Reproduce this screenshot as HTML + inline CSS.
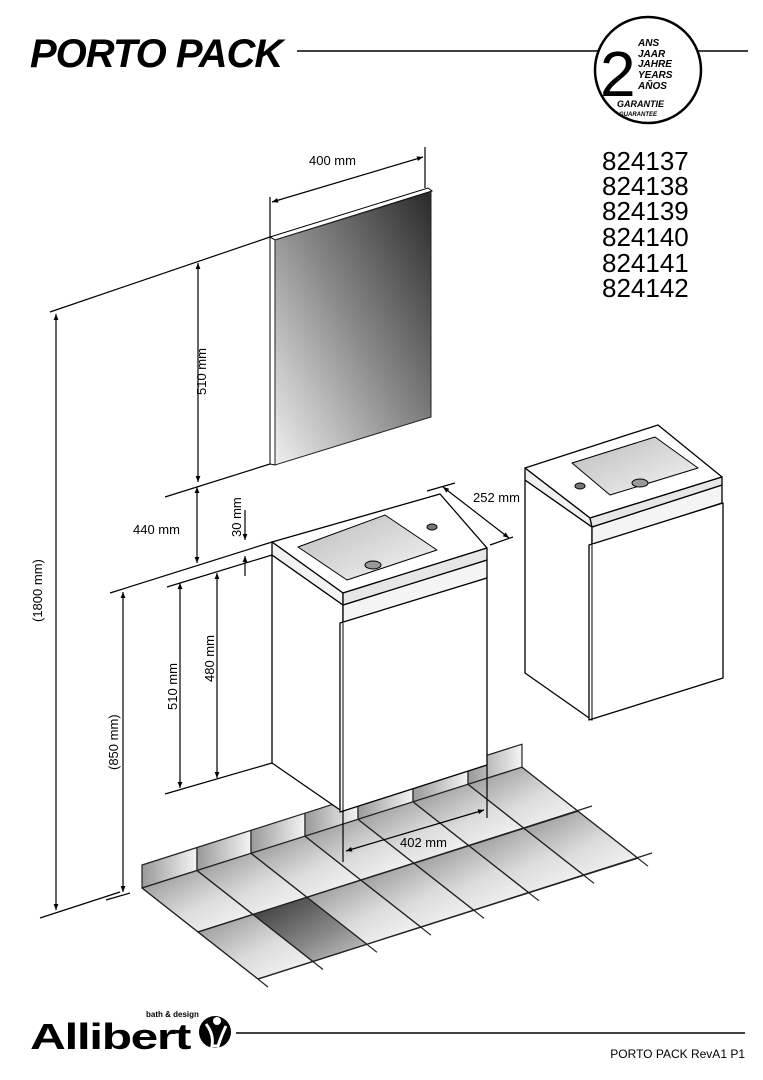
<!DOCTYPE html>
<html><head><meta charset="utf-8"><style>
html,body{margin:0;padding:0;background:#fff;}
svg{display:block;}
text{font-family:"Liberation Sans",sans-serif;}
</style></head><body>
<svg width="763" height="1080" viewBox="0 0 763 1080" xmlns="http://www.w3.org/2000/svg">
<defs>
<linearGradient id="mir" x1="1" y1="0" x2="0" y2="1">
<stop offset="0" stop-color="#2a2a2a"/><stop offset="0.5" stop-color="#8a8a8a"/><stop offset="1" stop-color="#f0f0f0"/>
</linearGradient>
<linearGradient id="tile" x1="0" y1="0" x2="1" y2="1">
<stop offset="0" stop-color="#8e8e8e"/><stop offset="0.55" stop-color="#dcdcdc"/><stop offset="1" stop-color="#fafafa"/>
</linearGradient>
<linearGradient id="tiled" x1="0" y1="0" x2="1" y2="1">
<stop offset="0" stop-color="#333"/><stop offset="0.6" stop-color="#888"/><stop offset="1" stop-color="#ccc"/>
</linearGradient>
<linearGradient id="sk" x1="0" y1="0" x2="1" y2="0">
<stop offset="0" stop-color="#999"/><stop offset="1" stop-color="#f4f4f4"/>
</linearGradient>
<linearGradient id="bas" x1="0" y1="0" x2="1" y2="1">
<stop offset="0" stop-color="#bbb"/><stop offset="1" stop-color="#f6f6f6"/>
</linearGradient>
<marker id="ar" viewBox="0 0 10 10" refX="10" refY="5" markerWidth="9" markerHeight="6" orient="auto-start-reverse" markerUnits="userSpaceOnUse">
<path d="M0,1 L10,5 L0,9 z" fill="#000"/></marker>
</defs>

<!-- Header -->
<text x="30" y="67" font-size="40" font-weight="bold" font-style="italic" letter-spacing="-1">PORTO PACK</text>
<line x1="297" y1="51" x2="598" y2="51" stroke="#000" stroke-width="1.5"/>
<line x1="698" y1="51" x2="748" y2="51" stroke="#000" stroke-width="1.5"/>
<ellipse cx="648" cy="70" rx="53" ry="53" fill="#fff" stroke="#000" stroke-width="2.5"/>
<text x="600" y="96" font-size="64">2</text>
<g font-size="10" font-weight="bold" font-style="italic">
<text x="638" y="46">ANS</text><text x="638" y="57">JAAR</text><text x="638" y="67">JAHRE</text><text x="638" y="78">YEARS</text><text x="638" y="89">AÑOS</text>
<text x="617" y="107" font-size="9">GARANTIE</text><text x="619" y="116" font-size="6">GUARANTEE</text></g>

<g font-size="26">
<text x="602" y="170">824137</text><text x="602" y="195">824138</text><text x="602" y="220">824139</text>
<text x="602" y="246">824140</text><text x="602" y="272">824141</text><text x="602" y="297">824142</text></g>

<!-- Floor -->
<g stroke="#222" stroke-width="1.2" stroke-linejoin="round">
<polygon points="142,865 197,847.5 197,870.5 142,888" fill="url(#sk)"/>
<polygon points="197,847.5 251,830.3 251,853.3 197,870.5" fill="url(#sk)"/>
<polygon points="251,830.3 305,813.2 305,836.2 251,853.3" fill="url(#sk)"/>
<polygon points="305,813.2 358,796.3 358,819.3 305,836.2" fill="url(#sk)"/>
<polygon points="358,796.3 413,778.8 413,801.8 358,819.3" fill="url(#sk)"/>
<polygon points="413,778.8 468,761.3 468,784.3 413,801.8" fill="url(#sk)"/>
<polygon points="468,761.3 522,744.2 522,767.2 468,784.3" fill="url(#sk)"/>

<polygon points="142,888 197,870.5 253,914.5 198,932" fill="url(#tile)"/>
<polygon points="197,870.5 251,853.3 307,897.3 253,914.5" fill="url(#tile)"/>
<polygon points="251,853.3 305,836.2 361,880.2 307,897.3" fill="url(#tile)"/>
<polygon points="305,836.2 358,819.3 414,863.3 361,880.2" fill="url(#tile)"/>
<polygon points="358,819.3 413,801.8 469,845.8 414,863.3" fill="url(#tile)"/>
<polygon points="413,801.8 468,784.3 524,828.3 469,845.8" fill="url(#tile)"/>
<polygon points="468,784.3 522,767.2 578,811.2 524,828.3" fill="url(#tile)"/>

<polygon points="198,932 253,914.5 313,961.5 258,979" fill="url(#tile)"/>
<polygon points="253,914.5 307,897.3 367,944.3 313,961.5" fill="url(#tiled)"/>
<polygon points="307,897.3 361,880.2 421,927.2 367,944.3" fill="url(#tile)"/>
<polygon points="361,880.2 414,863.3 474,910.3 421,927.2" fill="url(#tile)"/>
<polygon points="414,863.3 469,845.8 529,892.8 474,910.3" fill="url(#tile)"/>
<polygon points="469,845.8 524,828.3 584,875.3 529,892.8" fill="url(#tile)"/>
<polygon points="524,828.3 578,811.2 638,858.2 584,875.3" fill="url(#tile)"/>

<line x1="142" y1="888" x2="268" y2="987"/>
<line x1="197" y1="870.5" x2="323" y2="969.5"/>
<line x1="251" y1="853.3" x2="377" y2="952.3"/>
<line x1="305" y1="836.2" x2="431" y2="935.2"/>
<line x1="358" y1="819.3" x2="484" y2="918.3"/>
<line x1="413" y1="801.8" x2="539" y2="900.8"/>
<line x1="468" y1="784.3" x2="594" y2="883.3"/>
<line x1="522" y1="767.2" x2="648" y2="866.2"/>
<line x1="198" y1="932" x2="592" y2="806"/>
<line x1="258" y1="979" x2="652" y2="853"/>
</g>

<!-- Mirror -->
<polygon points="270,237 428,188 432,191 275,240" fill="#fff" stroke="#000" stroke-width="1"/>
<polygon points="270,237 275,240 275,465 270,464" fill="#fff" stroke="#000" stroke-width="1"/>
<polygon points="275,240 431,192 431,417 275,465" fill="url(#mir)" stroke="#222" stroke-width="1"/>

<!-- Dimension lines -->
<g stroke="#000" stroke-width="1.2" fill="none">
<line x1="270" y1="197" x2="270" y2="237"/><line x1="425" y1="147" x2="425" y2="188"/>
<line x1="272" y1="202" x2="423" y2="157" marker-start="url(#ar)" marker-end="url(#ar)"/>
<line x1="50" y1="312" x2="270" y2="237"/>
<line x1="198" y1="263" x2="198" y2="482" marker-start="url(#ar)" marker-end="url(#ar)"/>
<line x1="165" y1="497" x2="270" y2="464"/>
<line x1="197" y1="487" x2="197" y2="563" marker-start="url(#ar)" marker-end="url(#ar)"/>
<line x1="56" y1="314" x2="56" y2="910" marker-start="url(#ar)" marker-end="url(#ar)"/>
<line x1="40" y1="918" x2="120" y2="892"/>
<line x1="110" y1="593" x2="272" y2="542"/>
<line x1="167" y1="587" x2="272" y2="555"/>
<line x1="245" y1="510" x2="245" y2="540" marker-end="url(#ar)"/>
<line x1="245" y1="576" x2="245" y2="556" marker-end="url(#ar)"/>
<line x1="123" y1="592" x2="123" y2="892" marker-start="url(#ar)" marker-end="url(#ar)"/>
<line x1="106" y1="900" x2="130" y2="893"/>
<line x1="180" y1="583" x2="180" y2="788" marker-start="url(#ar)" marker-end="url(#ar)"/>
<line x1="217" y1="573" x2="217" y2="778" marker-start="url(#ar)" marker-end="url(#ar)"/>
<line x1="165" y1="794" x2="272" y2="763"/>
<line x1="427" y1="491" x2="455" y2="483"/>
<line x1="490" y1="545" x2="513" y2="537"/>
<line x1="443" y1="487" x2="509" y2="538" marker-start="url(#ar)" marker-end="url(#ar)"/>
<line x1="343" y1="812" x2="343" y2="862"/>
<line x1="487" y1="765" x2="487" y2="818"/>
<line x1="346" y1="851" x2="484" y2="810" marker-start="url(#ar)" marker-end="url(#ar)"/>
</g>

<!-- Left cabinet -->
<g stroke="#000" stroke-width="1.3" stroke-linejoin="round">
<polygon points="272,555 343,605 343,812 272,763" fill="#fff"/>
<polygon points="343,605 487,560 487,578 343,623" fill="#f4f4f4"/>
<polygon points="340,623 487,578 487,765 340,812" fill="#fff"/>
<line x1="343" y1="623" x2="343" y2="812" stroke-width="1"/>
<polygon points="272,542 440,494 487,548 343,593" fill="#fff"/>
<polygon points="272,542 343,593 343,605 272,555" fill="#f2f2f2"/>
<polygon points="343,593 487,548 487,560 343,605" fill="#e6e6e6"/>
<polygon points="298,547 385,515 437,550 347,580" fill="url(#bas)" stroke-width="1"/>
<ellipse cx="373" cy="565" rx="8" ry="4" fill="#999" stroke-width="1"/>
<ellipse cx="432" cy="527" rx="5" ry="3" fill="#777" stroke-width="1"/>
</g>

<!-- Right cabinet -->
<g stroke="#000" stroke-width="1.3" stroke-linejoin="round">
<polygon points="525,480 592,527 592,720 525,673" fill="#fff"/>
<polygon points="592,527 722,485 722,503 592,545" fill="#f4f4f4"/>
<polygon points="589,545 723,503 723,678 589,720" fill="#fff"/>
<line x1="592" y1="545" x2="592" y2="720" stroke-width="1"/>
<polygon points="525,468 658,425 722,477 590,518" fill="#fff"/>
<polygon points="525,468 590,518 592,527 525,480" fill="#f0f0f0"/>
<polygon points="590,518 722,477 722,485 592,527" fill="#e6e6e6"/>
<polygon points="572,463 655,437 698,468 610,495" fill="url(#bas)" stroke-width="1"/>
<ellipse cx="640" cy="483" rx="8" ry="4" fill="#999" stroke-width="1"/>
<ellipse cx="580" cy="486" rx="5" ry="3" fill="#777" stroke-width="1"/>
</g>

<!-- Labels -->
<g font-size="13">
<text x="309" y="165">400 mm</text>
<text x="473" y="502">252 mm</text>
<text x="133" y="534">440 mm</text>
<text x="400" y="847">402 mm</text>
<text transform="translate(206,395) rotate(-90)">510 mm</text>
<text transform="translate(241,537) rotate(-90)">30 mm</text>
<text transform="translate(177,710) rotate(-90)">510 mm</text>
<text transform="translate(214,682) rotate(-90)">480 mm</text>
<text transform="translate(118,770) rotate(-90)">(850 mm)</text>
<text transform="translate(42,622) rotate(-90)">(1800 mm)</text>
</g>

<!-- Footer -->
<text x="30" y="1049" font-size="36" font-weight="bold" letter-spacing="-1" textLength="160" lengthAdjust="spacingAndGlyphs">Allibert</text>
<text x="146" y="1017" font-size="8" font-weight="bold">bath &amp; design</text>
<circle cx="215" cy="1032" r="16" fill="#000"/>
<circle cx="217" cy="1021" r="4" fill="#fff"/>
<path d="M206,1024 Q214,1034 212,1046 L218,1046 Q222,1034 226,1026" fill="none" stroke="#fff" stroke-width="3"/>
<line x1="236" y1="1033" x2="745" y2="1033" stroke="#000" stroke-width="1.5"/>
<text x="745" y="1058" font-size="12" text-anchor="end">PORTO PACK RevA1 P1</text>
</svg>
</body></html>
